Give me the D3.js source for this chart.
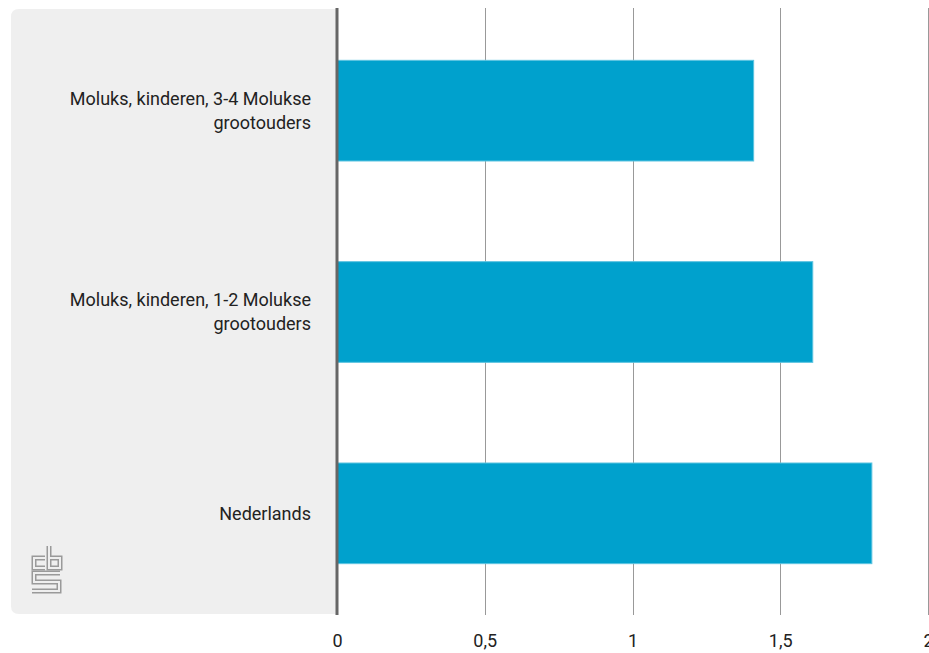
<!DOCTYPE html>
<html><head><meta charset="utf-8">
<script src="https://cdn.jsdelivr.net/npm/d3@7"></script>
<style>body{margin:0;background:#fff}svg{display:block}text{font-family:Roboto,"Noto Sans",sans-serif;fill:#222}</style>
</head><body>
<script>
const categories = [
  ["Moluks, kinderen, 3-4 Molukse", "grootouders"],
  ["Moluks, kinderen, 1-2 Molukse", "grootouders"],
  ["Nederlands"]
];
const values = [1.41, 1.61, 1.81];
const tickValues = [0, 0.5, 1, 1.5, 2];
const tickLabels = ["0", "0,5", "1", "1,5", "2"];

(function () {
const W = 929, H = 653;
const mLeft = 337, mRight = 928, mTop = 10, mBottom = 614;
const fs = 18;
const svg = d3.select("body").append("svg").attr("width", W).attr("height", H);

const x = d3.scaleLinear().domain([0, 2]).range([mLeft, mRight]);
const y = d3.scaleBand().domain(d3.range(categories.length)).range([mTop, mBottom]).paddingInner(0.5).paddingOuter(0.25);

// grey panel
svg.append("path")
  .attr("d", `M${mLeft},${mTop-1} H${19} Q${11},${mTop-1} ${11},${mTop+7} V${mBottom-8} Q${11},${mBottom} ${19},${mBottom} H${mLeft} Z`)
  .attr("fill", "#efefef");

// gridlines
svg.append("g").selectAll("line").data(tickValues.slice(1)).join("line")
  .attr("x1", d => Math.round(x(d)) + 0.5).attr("x2", d => Math.round(x(d)) + 0.5)
  .attr("y1", 8).attr("y2", mBottom + 1)
  .attr("stroke", "#999").attr("stroke-width", 1);

// bars
svg.append("g").selectAll("rect").data(values).join("rect")
  .attr("x", x(0)).attr("y", (d, i) => y(i))
  .attr("width", d => x(d) - x(0)).attr("height", y.bandwidth())
  .attr("fill", "#00a1cd").attr("stroke", "#5cc3e0").attr("stroke-width", 1);

// axis line
svg.append("line").attr("x1", mLeft).attr("x2", mLeft).attr("y1", 8).attr("y2", mBottom + 1)
  .attr("stroke", "#666").attr("stroke-width", 3);

// x tick labels
const xAxis = d3.axisBottom(x).tickValues(tickValues).tickFormat((d, i) => tickLabels[i]).tickSize(0).tickPadding(0);
const gx = svg.append("g").attr("transform", `translate(0,${634})`).call(xAxis);
gx.select(".domain").remove();
gx.selectAll("text").attr("font-size", fs).attr("fill", "#222").attr("font-family", "Roboto, sans-serif");

// category labels
const lab = svg.append("g");
categories.forEach((lines, i) => {
  const cy = y(i) + y.bandwidth() / 2;
  const n = lines.length, lh = 24;
  lines.forEach((t, j) => {
    lab.append("text").attr("x", 311).attr("y", cy + (j - (n - 1) / 2) * lh)
      .attr("dy", "0.35em").attr("text-anchor", "end").attr("font-size", fs).text(t);
  });
});

// CBS logo
const logo = svg.append("g").attr("transform", "translate(31,546)").attr("fill", "none").attr("stroke-linejoin", "miter");
const paths = ["M14,12 H3 V22 H14", "M18,0 V22 H29 V12 H18", "M29,27 H3 V36 H28 V45 H1"];
paths.forEach(p => logo.append("path").attr("d", p).attr("stroke", "#9a9a9a").attr("stroke-width", 5));
paths.forEach(p => logo.append("path").attr("d", p).attr("stroke", "#efefef").attr("stroke-width", 2));
})();
</script>
</body></html>
